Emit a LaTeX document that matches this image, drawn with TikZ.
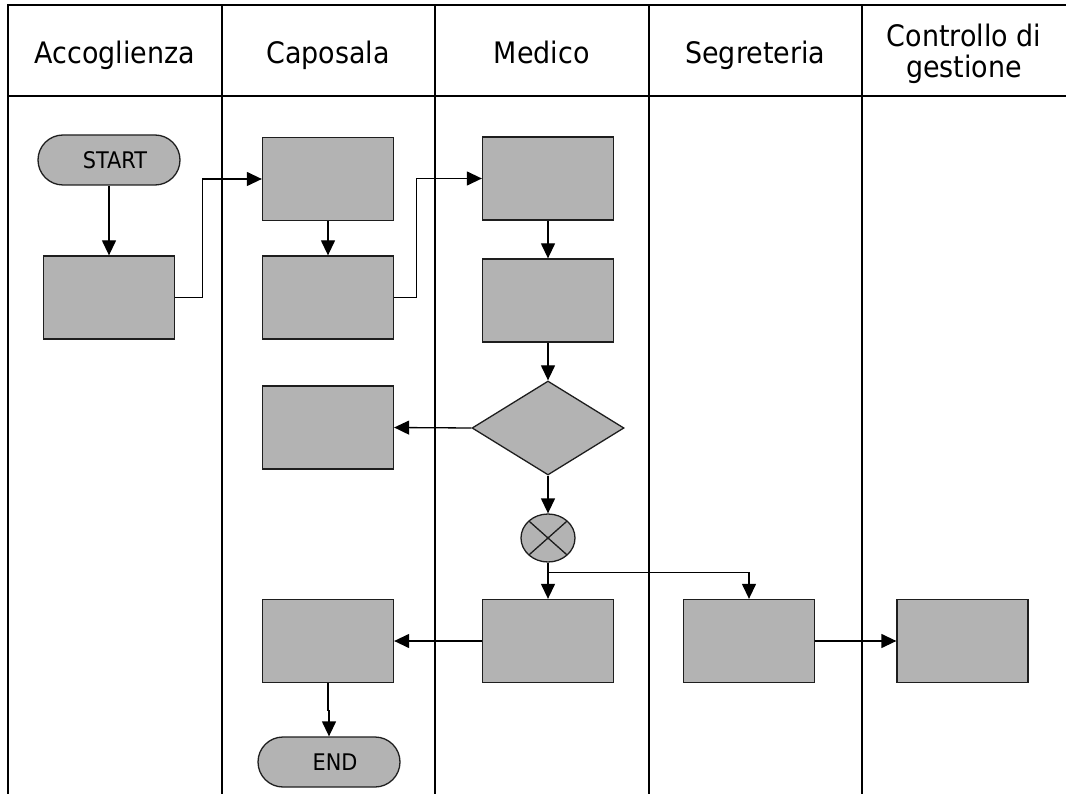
\documentclass[tikz,border=0pt]{standalone}
\usepackage{fontspec}
\setmainfont[FakeStretch=0.91]{DejaVu Sans}
\usetikzlibrary{arrows.meta,shapes.geometric,calc}

\definecolor{boxfill}{RGB}{179,179,179}
\definecolor{boxline}{RGB}{30,30,30}

\tikzset{
  lane/.style={line width=2pt, draw=black},
  head/.style={font=\fontsize{29.6}{30.5}\selectfont, align=center, inner sep=0pt},
  task/.style={draw=boxline, fill=boxfill, line width=1.3pt, minimum width=131pt, minimum height=83pt, inner sep=0pt},
  term/.style={draw=boxline, fill=boxfill, line width=1.3pt, rounded corners=25pt, minimum width=142pt, minimum height=50pt, inner sep=0pt, font=\fontsize{22.9}{24}\selectfont},
  choice/.style={diamond, draw=boxline, fill=boxfill, line width=1.3pt, minimum width=152pt, minimum height=94pt, inner sep=0pt},
  gate/.style={ellipse, draw=boxline, fill=boxfill, line width=1.3pt, minimum width=54pt, minimum height=48pt, inner sep=0pt,
    path picture={\draw[line width=1.3pt, boxline] (path picture bounding box.north west) -- (path picture bounding box.south east)
      (path picture bounding box.north east) -- (path picture bounding box.south west);}},
  flow/.style={line width=1.3pt, -{Triangle[length=15pt,width=14pt]}},
}

\begin{document}
\begin{tikzpicture}[x=1pt, y=-1pt]
  \useasboundingbox (0,0) rectangle (1066,794);
  \clip (0,0) rectangle (1066,794);

  % swimlane frame
  \draw[lane] (1070,5) -- (8,5) -- (8,800);
  \draw[lane] (8,96) -- (1070,96);
  \foreach \x in {221.5,435,648.5,862} \draw[lane] (\x,5) -- (\x,800);

  % lane titles (single-line titles share one baseline)
  \node[head, anchor=base] (hAcc) at (114.75,63.3) {Accoglienza};
  \node[head, anchor=base] (hCap) at (328.25,63.3) {Caposala};
  \node[head, anchor=base] (hMed) at (541.75,63.3) {Medico};
  \node[head, anchor=base] (hSeg) at (755.25,63.3) {Segreteria};
  \node[head] (hCon) at (964,54) {Controllo di\\gestione};

  % Accoglienza
  \node[term] (start) at (109,160) {\hspace*{12pt}START};
  \node[task] (a1) at (109,297.5) {};

  % Caposala
  \node[task] (c1) at (328,179) {};
  \node[task] (c2) at (328,297.5) {};
  \node[task] (c3) at (328,427.5) {};
  \node[task] (c4) at (328,641) {};
  \node[term] (end) at (329,762) {\hspace*{12pt}END};

  % Medico
  \node[task] (m1) at (548,178.5) {};
  \node[task] (m2) at (548,300.5) {};
  \node[choice] (dec) at (548,428) {};
  \node[gate] (xor) at (548,538) {};
  \node[task] (m3) at (548,641) {};

  % Segreteria and Controllo di gestione
  \node[task] (s1) at (749,641) {};
  \node[task] (g1) at (962.5,641) {};

  % connectors
  \draw[flow] (start) -- (a1);
  \draw[flow] (a1.east) -- ++(27,0) |- (c1.west);
  \draw[flow] (c1) -- (c2);
  \draw[flow] (c2.east) -- ++(22,0) |- (m1.west);
  \draw[flow] (m1) -- (m2);
  \draw[flow] (m2) -- (dec);
  \draw[flow] (dec.west) -- (c3.east);
  \draw[flow] (dec) -- (xor);
  \draw[flow] (xor) -- (m3);
  \coordinate (br) at ($(xor.south)+(0,10)$);
  \draw[flow] (br) -| (s1.north);
  \draw[flow] (m3.west) -- (c4.east);
  \draw[flow] (s1.east) -- (g1.west);
  \draw[flow] (c4.south) -- ++(0,27) -- ++(1,0) -- (end.north);
\end{tikzpicture}
\end{document}
